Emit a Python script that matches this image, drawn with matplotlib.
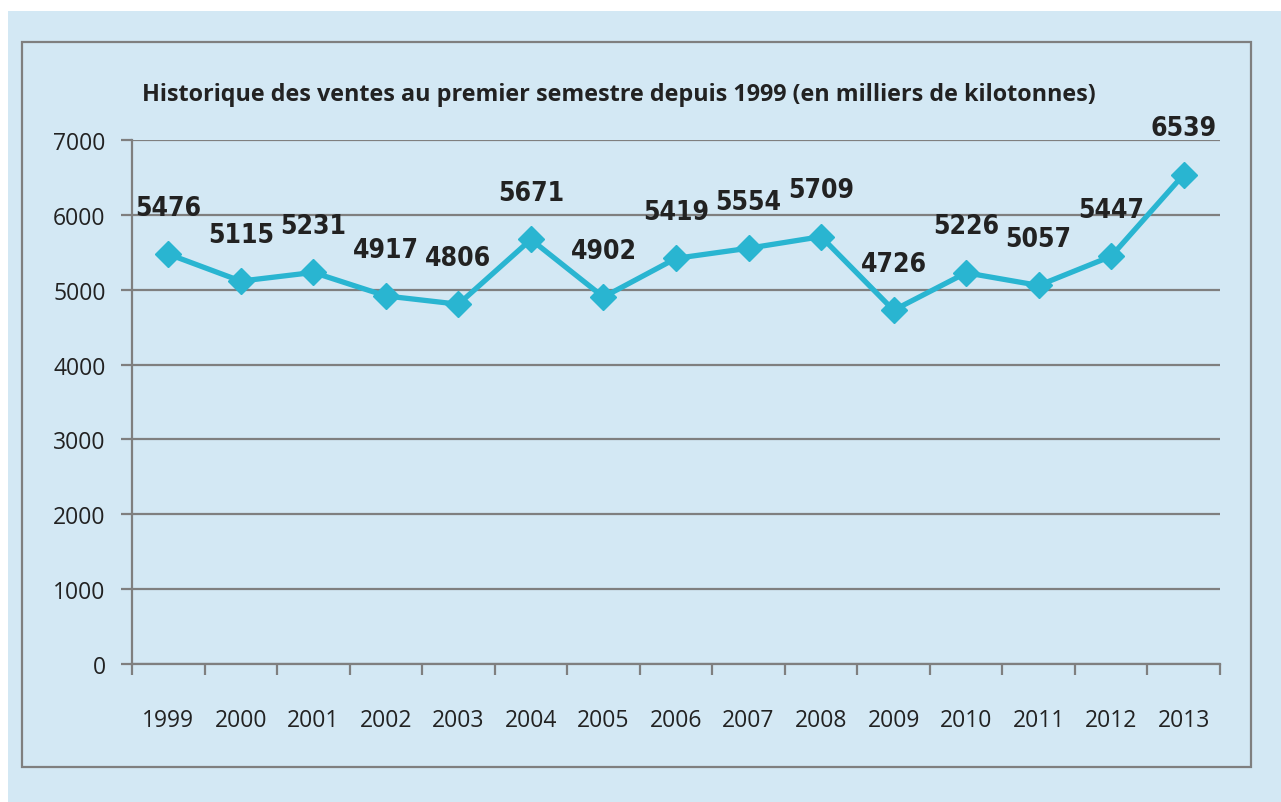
import matplotlib.pyplot as plt
import matplotlib.patches as patches
import numpy as np

years = ['1999', '2000', '2001', '2002', '2003', '2004', '2005', '2006',
         '2007', '2008', '2009', '2010', '2011', '2012', '2013']
ventes = [5476, 5115, 5231, 4917, 4806, 5671, 4902, 5419,
          5554, 5709, 4726, 5226, 5057, 5447, 6539]
yticks = [0, 1000, 2000, 3000, 4000, 5000, 6000, 7000]

bg = '#d3e8f4'
grey = '#7f7f7f'
line_col = '#29b5d1'

fig = plt.figure(figsize=(12.81, 8.03), dpi=100)
fig.patch.set_facecolor('white')

# light blue panel + inner frame
W, H = 1281, 803
fig.patches.append(patches.Rectangle((8 / W, 0), 1, 1 - 12 / H, transform=fig.transFigure,
                                     facecolor=bg, edgecolor='none', zorder=-2))
fig.patches.append(patches.Rectangle((22 / W, 1 - 768 / H), (1251 - 22) / W, (768 - 43) / H,
                                     transform=fig.transFigure, facecolor='none',
                                     edgecolor=grey, linewidth=1.6, zorder=-1))

ax = fig.add_axes([132 / W, 1 - 665 / H, (1220 - 132) / W, (665 - 141) / H])
ax.set_facecolor('none')
ax.set_zorder(2)

x = np.arange(len(years))
ax.plot(x, ventes, color=line_col, linewidth=3.8, marker='D', markersize=13,
        markeredgecolor=line_col, zorder=3, clip_on=False)

for xi, v in zip(x, ventes):
    ax.annotate(str(v), (xi, v), xytext=(0, 24), textcoords='offset points',
                ha='center', va='bottom', fontsize=19, fontweight='bold',
                family='DejaVu Sans', fontstretch='condensed', color='#222222')

ax.set_xlim(-0.5, len(years) - 0.5)
ax.set_ylim(0, 7000)
ax.set_yticks(yticks)
ax.set_yticklabels([str(t) for t in yticks], fontsize=16.5, family='Open Sans', color='#222222')
ax.yaxis.grid(True, color=grey, linewidth=1.6)
ax.set_axisbelow(True)

# category boundaries for ticks, labels in middle
ax.set_xticks(np.arange(-0.5, len(years), 1.0))
ax.set_xticklabels([])
ax.set_xticks(x, minor=True)
ax.set_xticklabels(years, minor=True, fontsize=16.5, family='Open Sans', color='#222222')
ax.tick_params(axis='x', which='major', length=8, width=1.6, color=grey, direction='out')
ax.tick_params(axis='x', which='minor', length=0, pad=32)
ax.tick_params(axis='y', length=8, width=1.6, color=grey, pad=11)

for s in ['top', 'right']:
    ax.spines[s].set_visible(False)
ax.spines['left'].set_color(grey)
ax.spines['left'].set_linewidth(1.6)
ax.spines['bottom'].set_color(grey)
ax.spines['bottom'].set_linewidth(1.6)

fig.text(142 / W, 1 - 95 / H, 'Historique des ventes au premier semestre depuis 1999 (en milliers de kilotonnes)',
         fontsize=16.85, fontweight='bold', family='Open Sans', color='#222222', va='center', ha='left')

fig.savefig('out.png', dpi=100, facecolor=fig.get_facecolor())
